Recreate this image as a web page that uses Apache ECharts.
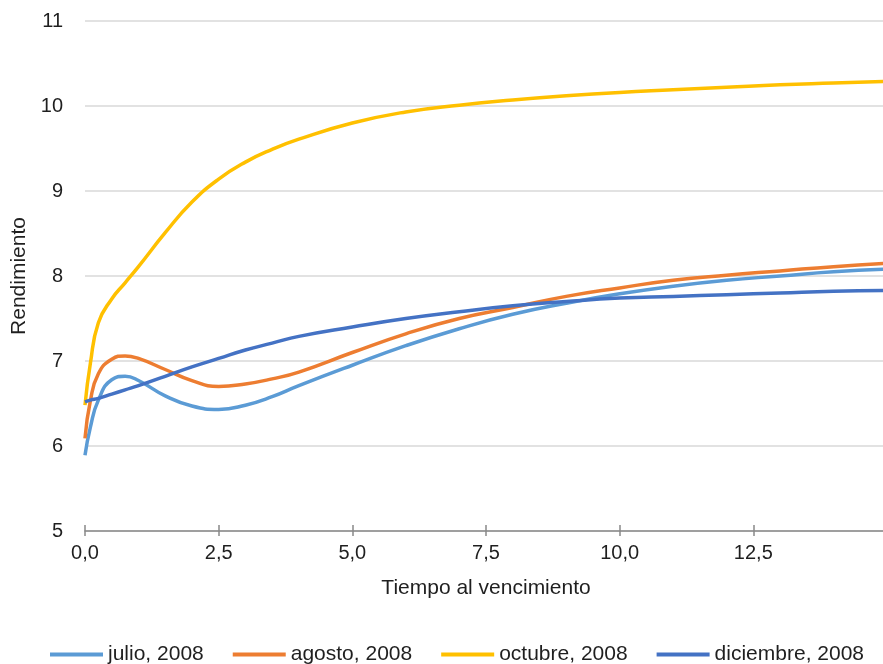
<!DOCTYPE html>
<html>
<head>
<meta charset="utf-8">
<script src="https://cdn.jsdelivr.net/npm/echarts@6/dist/echarts.min.js"></script>
<style>html,body{margin:0;padding:0;background:#fff}#c{width:883px;height:664px}</style>
</head>
<body>
<div id="c"></div>
<script>
const tenors = [0, 0.1, 0.25, 0.5, 0.75, 1, 1.5, 2, 2.5, 3, 3.5, 4, 5, 6, 7, 8, 9, 10, 11, 12, 13, 14, 15];
const julio = [5.89, 6.22, 6.54, 6.78, 6.82, 6.77, 6.59, 6.47, 6.43, 6.48, 6.58, 6.71, 6.95, 7.18, 7.38, 7.55, 7.68, 7.79, 7.88, 7.95, 8.00, 8.05, 8.08];
const agosto = [6.09, 6.53, 6.85, 7.02, 7.06, 7.03, 6.90, 6.77, 6.70, 6.73, 6.79, 6.87, 7.10, 7.32, 7.50, 7.63, 7.76, 7.86, 7.95, 8.01, 8.06, 8.11, 8.15];
const octubre = [6.48, 6.97, 7.45, 7.73, 7.92, 8.11, 8.51, 8.87, 9.14, 9.34, 9.49, 9.61, 9.80, 9.93, 10.01, 10.07, 10.12, 10.16, 10.19, 10.22, 10.25, 10.27, 10.29];
const diciembre = [6.52, 6.54, 6.56, 6.61, 6.66, 6.71, 6.82, 6.93, 7.03, 7.13, 7.21, 7.29, 7.40, 7.50, 7.58, 7.65, 7.70, 7.74, 7.76, 7.78, 7.80, 7.82, 7.83];
const seriesNames = ['julio, 2008', 'agosto, 2008', 'octubre, 2008', 'diciembre, 2008'];
const seriesData = [julio, agosto, octubre, diciembre];
const colors = ['#5B9BD5', '#ED7D31', '#FFC000', '#4472C4'];

const font = 'Liberation Sans, Arial, sans-serif';
const chart = echarts.init(document.getElementById('c'), null, {renderer: 'canvas'});
const xCommon = {type: 'value', min: 0, max: 15, interval: 2.5, position: 'bottom', splitLine: {show: false}};
chart.setOption({
  animation: false,
  color: colors,
  grid: {left: 85, right: -4, top: 21, bottom: 133, containLabel: false, outerBoundsMode: 'none'},
  legend: {
    left: 45, top: 639, itemWidth: 53, itemHeight: 4, itemGap: 29, icon: 'rect',
    textStyle: {fontFamily: font, fontSize: 21, color: '#1f1f1f'},
    data: seriesNames
  },
  xAxis: [
    Object.assign({}, xCommon, {
      name: 'Tiempo al vencimiento', nameLocation: 'middle', nameGap: 47,
      nameTextStyle: {fontFamily: font, fontSize: 21, color: '#1f1f1f'},
      axisLine: {show: true, lineStyle: {color: '#898989', width: 1.5}},
      axisTick: {show: true, inside: false, length: 5, lineStyle: {color: '#898989', width: 1.5}},
      axisLabel: {fontFamily: font, fontSize: 20, color: '#1f1f1f', margin: 12, showMaxLabel: false,
        formatter: v => v.toFixed(1).replace('.', ',')}
    }),
    Object.assign({}, xCommon, {
      axisLine: {show: false},
      axisTick: {show: true, inside: true, length: 6, lineStyle: {color: '#898989', width: 1.5}},
      axisLabel: {show: false}
    })
  ],
  yAxis: {
    type: 'value', min: 5, max: 11, interval: 1,
    name: 'Rendimiento', nameLocation: 'middle', nameGap: 51, nameRotate: 90,
    nameTextStyle: {fontFamily: font, fontSize: 21, color: '#1f1f1f'},
    axisLine: {show: false}, axisTick: {show: false},
    axisLabel: {fontFamily: font, fontSize: 20, color: '#1f1f1f', margin: 22},
    splitLine: {lineStyle: {color: '#d9d9d9', width: 1.5}}
  },
  series: seriesNames.map((n, i) => ({
    name: n, type: 'line', xAxisIndex: 0, smooth: 0.5, showSymbol: false, symbol: 'none',
    lineStyle: {width: 3.5, color: colors[i]},
    data: tenors.map((t, k) => [t, seriesData[i][k]])
  }))
});
</script>
</body>
</html>
